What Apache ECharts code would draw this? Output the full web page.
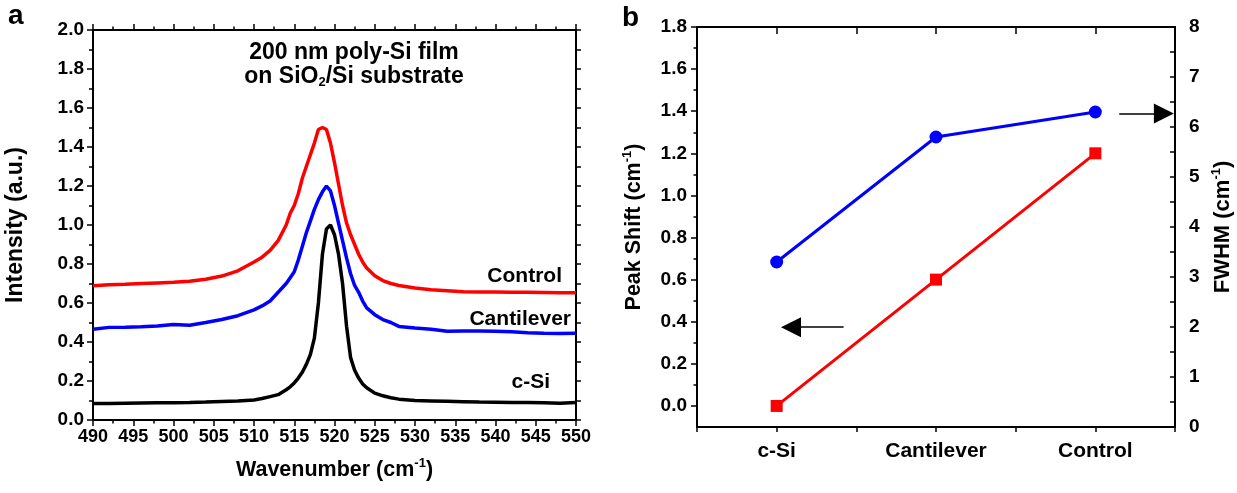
<!DOCTYPE html>
<html>
<head>
<meta charset="utf-8">
<script src="https://cdn.jsdelivr.net/npm/echarts@6/dist/echarts.min.js"></script>
<style>html,body{margin:0;padding:0;background:#fff;}#c{width:1237px;height:493px;}</style>
</head>
<body>
<div id="c"></div>
<script>
// ---- Panel a: Raman spectra ----
const wavenumber = [490,492,494,496,498,500,502,504,506,508,510,511,512,513,514,514.5,515,515.5,516,516.5,517,517.5,518,518.5,519,519.5,520,520.5,521,521.5,522,522.5,523,523.5,524,525,526,527,528,530,532,534,536,538,540,542,544,546,548,550];
const controlSpec = [0.689,0.693,0.696,0.700,0.703,0.706,0.711,0.722,0.738,0.765,0.810,0.835,0.870,0.920,1.000,1.060,1.100,1.160,1.240,1.300,1.360,1.420,1.490,1.500,1.490,1.420,1.320,1.210,1.100,1.010,0.950,0.900,0.850,0.810,0.780,0.740,0.715,0.700,0.690,0.677,0.668,0.663,0.658,0.657,0.656,0.655,0.655,0.654,0.653,0.653];
const cantileverSpec = [0.465,0.475,0.476,0.478,0.482,0.490,0.486,0.500,0.515,0.535,0.565,0.585,0.610,0.655,0.700,0.730,0.760,0.820,0.890,0.960,1.020,1.080,1.130,1.170,1.200,1.175,1.100,1.010,0.920,0.830,0.750,0.690,0.655,0.610,0.575,0.540,0.515,0.500,0.480,0.472,0.465,0.455,0.457,0.456,0.455,0.452,0.448,0.445,0.444,0.445];
const cSiSpec = [0.085,0.085,0.086,0.087,0.088,0.089,0.090,0.092,0.095,0.098,0.103,0.110,0.120,0.130,0.155,0.170,0.190,0.215,0.245,0.285,0.335,0.420,0.600,0.850,0.980,1.000,0.950,0.850,0.700,0.480,0.320,0.255,0.215,0.185,0.165,0.138,0.124,0.114,0.107,0.100,0.098,0.096,0.094,0.092,0.091,0.090,0.090,0.089,0.086,0.090];

// ---- Panel b: peak shift & FWHM ----
const samples = ['c-Si', 'Cantilever', 'Control'];
const peakShift = [0.0, 0.6, 1.2];
const fwhm = [3.3, 5.8, 6.3];
const peakShiftTicks = [0.0,0.2,0.4,0.6,0.8,1.0,1.2,1.4,1.6,1.8];
const peakShiftMinor = [0.1,0.3,0.5,0.7,0.9,1.1,1.3,1.5,1.7];
// arrows (data coordinates)
const leftArrow = [[0.42, 0.374], [0.09, 0.374]];
const rightArrow = [[2.15, 6.27], [2.43, 6.27]];

const FONT = 'Liberation Sans, Arial, sans-serif';
const pairs = (xs, ys) => xs.map((x, i) => [x, ys[i]]);
const lab = (size) => ({color:'#000', fontFamily:FONT, fontWeight:'bold', fontSize:size});
const axisLine = {show:true, onZero:false, lineStyle:{color:'#000', width:2}};
const tickLS = {width:1.5, color:'#000'};
const supRich = {sup:{fontSize:13, fontWeight:'bold', fontFamily:FONT, color:'#000', verticalAlign:'top', lineHeight:13}};

const chart = echarts.init(document.getElementById('c'), null, {renderer:'canvas'});
chart.setOption({
  animation: false,
  backgroundColor: '#fff',
  grid: [
    {left:93, top:30, width:483, height:390},
    {left:697, top:27, width:480, height:400}
  ],
  xAxis: [
    {gridIndex:0, type:'value', min:490, max:550, interval:5, position:'bottom',
     axisLine, axisTick:{length:6, lineStyle:tickLS},
     minorTick:{show:true, splitNumber:2, length:3.5, lineStyle:tickLS},
     axisLabel:Object.assign(lab(18), {margin:8}), splitLine:{show:false},
     name:'Wavenumber (cm{sup|-1})', nameLocation:'middle', nameGap:37,
     nameTextStyle:Object.assign(lab(21.5), {lineHeight:26, rich:supRich})},
    {gridIndex:0, type:'value', min:490, max:550, interval:5, position:'top',
     axisLine, axisTick:{length:6, lineStyle:tickLS},
     minorTick:{show:true, splitNumber:2, length:3.5, lineStyle:tickLS},
     axisLabel:{show:false}, splitLine:{show:false}},
    {gridIndex:1, type:'value', min:-0.5, max:2.5, interval:0.5, position:'bottom',
     axisLine, axisTick:{length:5, lineStyle:tickLS},
     axisLabel:Object.assign(lab(21), {margin:14, formatter:(v)=>Number.isInteger(v) && samples[v] !== undefined ? samples[v] : ''}),
     splitLine:{show:false}},
    {gridIndex:1, type:'value', min:-0.5, max:2.5, interval:0.5, position:'top',
     axisLine, axisTick:{inside:true, length:7, lineStyle:tickLS},
     axisLabel:{show:false}, splitLine:{show:false}}
  ],
  yAxis: [
    {gridIndex:0, type:'value', min:0, max:2, interval:0.2, position:'left',
     axisLine, axisTick:{show:true, length:6, lineStyle:tickLS},
     minorTick:{show:true, splitNumber:2, length:4, lineStyle:tickLS},
     axisLabel:Object.assign(lab(19), {margin:9, formatter:(v)=>v.toFixed(1)}), splitLine:{show:false},
     name:'Intensity (a.u.)', nameLocation:'middle', nameGap:66, nameRotate:90,
     nameTextStyle:lab(23)},
    {gridIndex:0, type:'value', min:0, max:2, interval:0.1, position:'right',
     axisLine, axisTick:{show:true, length:5, lineStyle:tickLS},
     axisLabel:{show:false}, splitLine:{show:false}},
    {gridIndex:1, type:'value', min:-0.1, max:1.8, position:'left',
     axisLine,
     axisTick:{show:true, length:6, customValues:peakShiftTicks, lineStyle:tickLS},
     axisLabel:Object.assign(lab(19), {margin:10, customValues:peakShiftTicks, formatter:(v)=>v.toFixed(1)}),
     splitLine:{show:false},
     name:'Peak Shift (cm{sup|-1})', nameLocation:'middle', nameGap:50, nameRotate:90,
     nameTextStyle:Object.assign(lab(21.5), {lineHeight:26, rich:supRich})},
    {gridIndex:1, type:'value', min:-0.1, max:1.8, position:'left',
     axisLine:{show:false, onZero:false},
     axisTick:{show:true, length:3.5, customValues:peakShiftMinor, lineStyle:tickLS},
     axisLabel:{show:false}, splitLine:{show:false}},
    {gridIndex:1, type:'value', min:0, max:8, interval:0.5, position:'right',
     axisLine, axisTick:{show:true, inside:true, length:5, lineStyle:tickLS},
     axisLabel:Object.assign(lab(19), {margin:14, formatter:(v)=>Number.isInteger(v) ? String(v) : ''}),
     splitLine:{show:false},
     name:'FWHM (cm{sup|-1})', nameLocation:'middle', nameGap:35, nameRotate:90,
     nameTextStyle:Object.assign(lab(22), {lineHeight:26, rich:supRich})}
  ],
  series: [
    {name:'Control', type:'line', xAxisIndex:0, yAxisIndex:0, data:pairs(wavenumber, controlSpec),
     showSymbol:false, lineStyle:{color:'#ff0000', width:3.5}, itemStyle:{color:'#ff0000'}},
    {name:'Cantilever', type:'line', xAxisIndex:0, yAxisIndex:0, data:pairs(wavenumber, cantileverSpec),
     showSymbol:false, lineStyle:{color:'#0000ff', width:3.5}, itemStyle:{color:'#0000ff'}},
    {name:'c-Si', type:'line', xAxisIndex:0, yAxisIndex:0, data:pairs(wavenumber, cSiSpec),
     showSymbol:false, lineStyle:{color:'#000000', width:3.5}, itemStyle:{color:'#000000'}},
    {name:'Peak Shift', type:'line', xAxisIndex:2, yAxisIndex:2, data:peakShift.map((v,i)=>[i,v]),
     symbol:'rect', symbolSize:12, lineStyle:{color:'#ff0000', width:3}, itemStyle:{color:'#ff0000'},
     markLine:{silent:true, symbol:['none','triangle'], symbolSize:[20,20], label:{show:false},
       lineStyle:{color:'#000', width:1.5, type:'solid'},
       data:[[{coord:leftArrow[0]},{coord:leftArrow[1]}]]}},
    {name:'FWHM', type:'line', xAxisIndex:2, yAxisIndex:4, data:fwhm.map((v,i)=>[i,v]),
     symbol:'circle', symbolSize:13, lineStyle:{color:'#0000ff', width:3}, itemStyle:{color:'#0000ff'},
     markLine:{silent:true, symbol:['none','triangle'], symbolSize:[20,20], label:{show:false},
       lineStyle:{color:'#000', width:1.5, type:'solid'},
       data:[[{coord:rightArrow[0]},{coord:rightArrow[1]}]]}}
  ],
  graphic: [
    {type:'text', x:8, y:2, style:{text:'a', fill:'#000', font:'bold 28px '+FONT}},
    {type:'text', x:622, y:4, style:{text:'b', fill:'#000', font:'bold 28px '+FONT}},
    {type:'text', x:354, y:41, style:{text:'200 nm poly-Si film\non SiO{sub|2}/Si substrate', fill:'#000',
      fontFamily:FONT, fontWeight:'bold', fontSize:23, lineHeight:24, align:'center', verticalAlign:'top',
      rich:{sub:{fontSize:13, fontWeight:'bold', fontFamily:FONT, fill:'#000', verticalAlign:'bottom', lineHeight:13}}}},
    {type:'text', x:562, y:276, style:{text:'Control', fill:'#000', fontFamily:FONT, fontWeight:'bold', fontSize:21, align:'right', verticalAlign:'middle'}},
    {type:'text', x:571, y:319, style:{text:'Cantilever', fill:'#000', fontFamily:FONT, fontWeight:'bold', fontSize:21, align:'right', verticalAlign:'middle'}},
    {type:'text', x:550, y:382, style:{text:'c-Si', fill:'#000', fontFamily:FONT, fontWeight:'bold', fontSize:21, align:'right', verticalAlign:'middle'}}
  ]
});
</script>
</body>
</html>
